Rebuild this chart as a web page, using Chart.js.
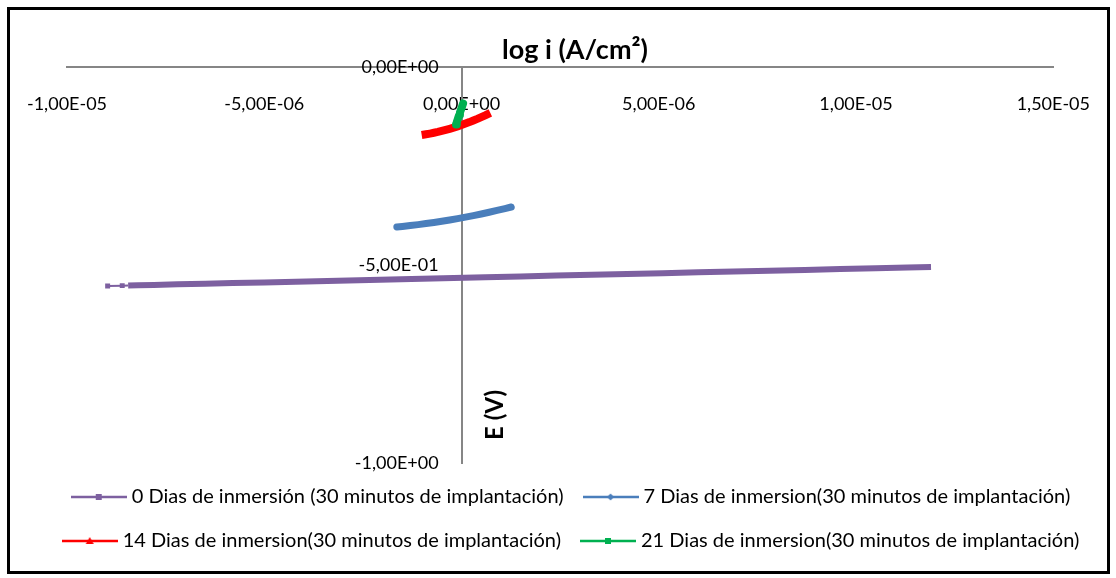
<!DOCTYPE html>
<html>
<head>
<meta charset="utf-8">
<script src="https://cdn.jsdelivr.net/npm/chart.js@4.4.1/dist/chart.umd.min.js"></script>
<style>
  html, body { margin: 0; padding: 0; background: #fff; }
</style>
</head>
<body>
<canvas id="polChart" width="1116" height="578"></canvas>
<script>
// current density (A/cm2) and potential (V)
const iDay0 = [-8.97e-6, -8.60e-6, -8.45e-6, -8.2e-6, -7.8e-6, -7.2e-6, -6.5e-6, -5.8e-6, -5.0e-6, -4.2e-6,
  -3.4e-6, -2.6e-6, -1.8e-6, -1.0e-6, -0.2e-6, 0.6e-6, 1.5e-6, 2.4e-6, 3.3e-6, 4.2e-6,
  5.1e-6, 6.0e-6, 6.9e-6, 7.8e-6, 8.7e-6, 9.6e-6, 10.5e-6, 11.3e-6, 11.9e-6];
const eDay0 = [-0.5530, -0.5521, -0.5518, -0.5512, -0.5503, -0.5489, -0.5473, -0.5457, -0.5439, -0.5420,
  -0.5402, -0.5384, -0.5365, -0.5347, -0.5329, -0.5310, -0.5289, -0.5268, -0.5248, -0.5227,
  -0.5206, -0.5186, -0.5165, -0.5144, -0.5124, -0.5103, -0.5082, -0.5064, -0.5050];

const iDay7 = [-1.64e-6, -1.5e-6, -1.3e-6, -1.1e-6, -0.9e-6, -0.7e-6, -0.5e-6, -0.3e-6, -0.1e-6,
  0.1e-6, 0.3e-6, 0.5e-6, 0.7e-6, 0.9e-6, 1.1e-6, 1.26e-6];
const eDay7 = [-0.4040, -0.4026, -0.4004, -0.3980, -0.3954, -0.3926, -0.3896, -0.3863, -0.3828,
  -0.3791, -0.3752, -0.3711, -0.3668, -0.3622, -0.3575, -0.3535];

const iDay14 = [-1.01e-6, -0.9e-6, -0.8e-6, -0.7e-6, -0.6e-6, -0.5e-6, -0.4e-6, -0.3e-6, -0.2e-6,
  -0.1e-6, 0, 0.1e-6, 0.2e-6, 0.3e-6, 0.4e-6, 0.5e-6, 0.6e-6, 0.73e-6];
const eDay14 = [-0.1717, -0.1699, -0.1681, -0.1661, -0.1639, -0.1614, -0.1588, -0.1560, -0.1530,
  -0.1499, -0.1465, -0.1429, -0.1392, -0.1352, -0.1311, -0.1267, -0.1222, -0.1160];

const iDay21 = [-0.14e-6, -0.12e-6, -0.10e-6, -0.08e-6, -0.06e-6, -0.04e-6, -0.02e-6, 0, 0.02e-6, 0.04e-6];
const eDay21 = [-0.145, -0.139, -0.133, -0.127, -0.121, -0.115, -0.109, -0.104, -0.098, -0.092];

const seriesNames = [
  '0 Dias de inmersión (30 minutos de implantación)',
  '7 Dias de inmersion(30 minutos de implantación)',
  '14 Dias de inmersion(30 minutos de implantación)',
  '21 Dias de inmersion(30 minutos de implantación)'
];
const seriesColors = ['#7D60A0', '#4A7EBB', '#FF0000', '#00B050'];
const legendMarks = ['rect', 'rectRot', 'triangle', 'rect'];

const xMin = -1e-5, xMax = 1.5e-5, xStep = 5e-6;
const yMin = -1, yMax = 0, yStep = 0.5;
const xTitle = 'log i (A/cm²)';
const yTitle = 'E (V)';

const FONT = 'Lato, "Liberation Sans", sans-serif';
const AXIS_GREY = '#868686';

function pairs(xs, ys) {
  return xs.map((x, k) => ({ x: x, y: ys[k] }));
}

// Excel style scientific label: -1,00E-05
function excelSci(v) {
  if (Math.abs(v) < 1e-12) v = 0;
  let parts = v.toExponential(2).split('e');
  let sign = parts[1][0] === '-' ? '-' : '+';
  let exp = parts[1].replace(/[+-]/, '');
  if (exp.length < 2) exp = '0' + exp;
  return parts[0].replace('.', ',') + 'E' + sign + exp;
}

function legendMark(color, style) {
  const c = document.createElement('canvas');
  c.width = 56; c.height = 12;
  const g = c.getContext('2d');
  g.strokeStyle = color;
  g.fillStyle = color;
  g.lineWidth = 2.5;
  g.beginPath(); g.moveTo(0, 6); g.lineTo(56, 6); g.stroke();
  g.beginPath();
  if (style === 'rect') {
    g.rect(25, 3, 6, 6);
  } else if (style === 'rectRot') {
    g.moveTo(28, 2.5); g.lineTo(31.5, 6); g.lineTo(28, 9.5); g.lineTo(24.5, 6);
  } else {
    g.moveTo(28, 2); g.lineTo(32, 9); g.lineTo(24, 9);
  }
  g.closePath(); g.fill();
  return c;
}
const legendImages = seriesColors.map((c, k) => legendMark(c, legendMarks[k]));

const frame = {
  id: 'frame',
  beforeDraw(chart) {
    const c = chart.ctx;
    c.save();
    c.fillStyle = '#fff';
    c.fillRect(0, 0, chart.width, chart.height);
    c.restore();
  },
  afterDraw(chart) {
    const c = chart.ctx;
    const x0 = chart.scales.x.getPixelForValue(0);
    c.save();
    c.strokeStyle = '#000';
    c.lineWidth = 3;
    c.strokeRect(8.5, 8.5, 1100, 564);
    c.fillStyle = '#000';
    c.font = 'bold 27px ' + FONT;
    c.textAlign = 'center';
    c.textBaseline = 'middle';
    c.fillText(xTitle, 575, 50);
    c.translate(x0 + 34, 415);
    c.rotate(-Math.PI / 2);
    c.font = 'bold 24px ' + FONT;
    c.fillText(yTitle, 0, 0);
    c.restore();
  }
};

Chart.defaults.color = '#000';
Chart.defaults.font.family = FONT;

new Chart(document.getElementById('polChart'), {
  type: 'scatter',
  data: {
    datasets: [
      {
        label: seriesNames[0],
        data: pairs(iDay0, eDay0),
        xAxisID: 'x', yAxisID: 'y',
        showLine: true,
        borderColor: seriesColors[0],
        backgroundColor: seriesColors[0],
        borderWidth: 6,
        pointStyle: 'rect',
        pointRadius: ctx => ctx.dataIndex < 2 ? 3.5 : 0,
        pointBorderWidth: 0,
        segment: { borderWidth: ctx => ctx.p0DataIndex < 2 ? 2 : 6 },
        order: 4
      },
      {
        label: seriesNames[1],
        data: pairs(iDay7, eDay7),
        xAxisID: 'x', yAxisID: 'y',
        showLine: true,
        borderColor: seriesColors[1],
        backgroundColor: seriesColors[1],
        borderWidth: 7,
        borderCapStyle: 'round',
        borderJoinStyle: 'round',
        pointRadius: 0,
        order: 3
      },
      {
        label: seriesNames[2],
        data: pairs(iDay14, eDay14),
        xAxisID: 'x', yAxisID: 'y',
        showLine: true,
        borderColor: seriesColors[2],
        backgroundColor: seriesColors[2],
        borderWidth: 8,
        borderJoinStyle: 'round',
        pointRadius: 0,
        order: 2
      },
      {
        label: seriesNames[3],
        data: pairs(iDay21, eDay21),
        xAxisID: 'x', yAxisID: 'y',
        showLine: true,
        borderColor: seriesColors[3],
        backgroundColor: seriesColors[3],
        borderWidth: 8,
        borderCapStyle: 'round',
        borderJoinStyle: 'round',
        pointRadius: 0,
        order: 1
      }
    ]
  },
  options: {
    responsive: false,
    animation: false,
    devicePixelRatio: 1,
    layout: { padding: { left: 30, right: 0, top: 67, bottom: 17 } },
    scales: {
      x: {
        type: 'linear',
        min: xMin, max: xMax,
        position: { y: 0 },
        grid: { drawOnChartArea: false, drawTicks: false },
        border: { color: AXIS_GREY, width: 2 },
        ticks: {
          stepSize: xStep,
          padding: 26,
          maxRotation: 0,
          font: { size: 18 },
          callback: v => excelSci(v)
        }
      },
      y: {
        type: 'linear',
        min: yMin, max: yMax,
        position: { x: 0 },
        grid: { drawOnChartArea: false, drawTicks: false },
        border: { color: AXIS_GREY, width: 2 },
        ticks: { display: false, stepSize: yStep }
      },
      yLabels: {
        type: 'linear',
        min: yMin, max: yMax,
        position: { x: -0.58e-6 },
        grid: { display: false, drawTicks: false },
        border: { display: false },
        ticks: {
          stepSize: yStep,
          font: { size: 18 },
          callback: v => excelSci(v)
        }
      },
      // empty side boxes that keep the plot area inside the frame while the legend uses the full width
      padLeft: {
        type: 'linear', axis: 'y', position: 'left',
        grid: { display: false }, border: { display: false }, ticks: { display: false },
        afterFit: s => { s.width = 37; }
      },
      padRight: {
        type: 'linear', axis: 'y', position: 'right',
        grid: { display: false }, border: { display: false }, ticks: { display: false },
        afterFit: s => { s.width = 58; }
      }
    },
    plugins: {
      tooltip: { enabled: false },
      legend: {
        position: 'bottom',
        labels: {
          usePointStyle: true,
          pointStyleWidth: 46,
          padding: 24,
          font: { size: 20 },
          sort: (a, b) => a.datasetIndex - b.datasetIndex,
          generateLabels: chart => {
            const items = Chart.defaults.plugins.legend.labels.generateLabels(chart);
            items.forEach(it => { it.pointStyle = legendImages[it.datasetIndex]; });
            return items;
          }
        }
      }
    }
  },
  plugins: [frame]
});
</script>
</body>
</html>
